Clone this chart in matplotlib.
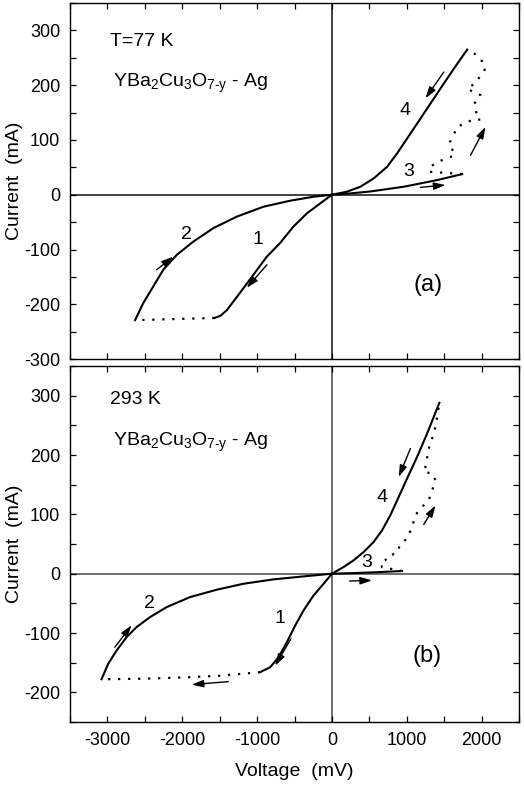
import numpy as np
import matplotlib
matplotlib.use("Agg")
import matplotlib.pyplot as plt
from matplotlib.ticker import MultipleLocator

plt.rcParams["font.family"] = ["Liberation Sans", "DejaVu Sans"]
plt.rcParams["mathtext.fontset"] = "custom"
plt.rcParams["mathtext.rm"] = "Liberation Sans"
plt.rcParams["mathtext.default"] = "regular"
plt.rcParams["axes.unicode_minus"] = False

# ---- panel (a), T = 77 K ----
a_c1_v = [0, -157, -335, -514, -692, -870, -1049, -1228, -1406, -1490, -1570]
a_c1_i = [0, -15.8, -34, -58, -88, -113, -146, -179, -211, -221, -225]

a_dot1_v = [-1570, -2630]
a_dot1_i = [-225, -229]

a_c2_v = [-2630, -2522, -2388, -2254, -2075, -1853, -1585, -1272, -916, -558, -246, 0]
a_c2_i = [-229, -198, -167.6, -137, -110, -85.6, -61, -40, -21.9, -10.9, -3.6, 0]

a_c3_v = [0, 250, 513, 959, 1406, 1740]
a_c3_i = [0, 2.5, 6, 14.6, 26.8, 37.7]

a_dot2_v = [1740, 1500, 1300, 1320, 1450, 1640, 1600, 1560, 1620, 1680, 1790, 1880, 1985, 1930,
            1900, 1985, 1880, 1810, 1920, 1985, 2050, 1990, 1900, 1807]
a_dot2_i = [37.7, 40, 42, 52, 62, 72, 85, 92, 108, 125, 130, 138, 137, 150,
            166, 182, 188, 194, 204, 218, 230, 248, 258, 265]

a_c4_v = [1807, 1673, 1494, 1316, 1138, 1004, 870, 736, 557, 379, 200, 0]
a_c4_i = [265, 239, 203, 166.5, 130, 102.7, 75.4, 51, 29.8, 14.6, 5.5, 0]

# arrows: (tail V, tail I, head V, head I)
a_arrows = [
    (1494, 224, 1249, 176),
    (1851, 72, 2052, 124),
    (1182, 13.5, 1517, 17.7),
    (-2343, -137, -2120, -113),
    (-870, -128, -1138, -170),
]
a_numbers = [("1", -987, -82), ("2", -1941, -73), ("3", 1022, 42), ("4", 981, 154)]

# ---- panel (b), T = 293 K ----
b_c1_v = [0, -112, -246, -380, -491, -602, -715, -826, -960]
b_c1_i = [0, -17, -36.7, -62, -87.3, -115.5, -141, -157.8, -166]

b_dot1_v = [-960, -1500, -2000, -2500, -3079]
b_dot1_i = [-166, -172, -175, -177, -178]

b_c2_v = [-3079, -2990, -2878, -2744, -2610, -2432, -2209, -1897, -1539, -1183, -782, -380, 0]
b_c2_i = [-178, -152, -129.6, -107, -90, -73.3, -56.4, -39.5, -27, -17, -9.6, -4.6, 0]

b_c3_v = [0, 300, 600, 937]
b_c3_i = [0, 1, 2.5, 4.5]

b_dot2_v = [937, 780, 669, 647, 714, 736, 870, 914, 1004, 1071, 1115, 1182, 1293, 1339, 1383,
            1339, 1226, 1272, 1272, 1339, 1383, 1406, 1427]
b_dot2_i = [4.5, 8.4, 11, 18, 22.5, 29, 35, 50.6, 59, 78.8, 98.5, 109.8, 123.8, 140.7, 157.6,
            169, 171.6, 188.5, 202.7, 228, 247.6, 264.5, 281.4]

b_c4_v = [1435, 1272, 1138, 1004, 892, 780, 669, 557, 423, 289, 155, 0]
b_c4_i = [288, 236.5, 197, 160.5, 129.4, 98.5, 73, 53.4, 36.5, 22.5, 11.2, 0]

b_arrows = [
    (1048, 211, 892, 163),
    (1226, 83, 1383, 115),
    (236, -12.4, 535, -11.3),
    (-2901, -124, -2677, -87),
    (-549, -110, -759, -155),
    (-1384, -182, -1874, -187),
]
b_numbers = [("1", -692, -76), ("2", -2442, -51), ("3", 468, 19.6), ("4", 669, 129)]


def style_axes(ax, ylim, zero_color):
    ax.set_xlim(-3500, 2500)
    ax.set_ylim(*ylim)
    ax.xaxis.set_major_locator(MultipleLocator(1000))
    ax.xaxis.set_minor_locator(MultipleLocator(500))
    ax.yaxis.set_major_locator(MultipleLocator(100))
    ax.yaxis.set_minor_locator(MultipleLocator(50))
    ax.tick_params(which="both", direction="in", top=True, right=True,
                   length=4, width=0.9, labelsize=13, pad=7)
    for s in ax.spines.values():
        s.set_linewidth(1.0)
    ax.axhline(0, color=zero_color, lw=1.2, zorder=1)
    ax.axvline(0, color=zero_color, lw=1.2, zorder=1)
    ax.set_ylabel("Current  (mA)", fontsize=14, labelpad=1)


def draw_panel(ax, solid, dotted, arrows, numbers):
    for v, i in solid:
        ax.plot(v, i, color="k", lw=1.5, solid_joinstyle="round", zorder=3)
    for v, i in dotted:
        ax.plot(v, i, color="k", lw=1.6, linestyle=(0, (1, 3.5)), zorder=3)
    for tv, ti, hv, hi in arrows:
        ax.annotate("", xy=(hv, hi), xytext=(tv, ti),
                    arrowprops=dict(arrowstyle="-|>,head_length=0.7,head_width=0.22",
                                    color="k", lw=1.0, shrinkA=0, shrinkB=0))
    for txt, v, i in numbers:
        ax.text(v, i, txt, fontsize=14, ha="center", va="center")


fig = plt.figure(figsize=(5.24, 7.87), dpi=100)
ax1 = fig.add_axes([0.1336, 0.5438, 0.857, 0.4523])
ax2 = fig.add_axes([0.1336, 0.0826, 0.857, 0.4523])

style_axes(ax1, (-300, 350), "#222222")
ax1.tick_params(labelbottom=False)
draw_panel(ax1,
           [(a_c1_v, a_c1_i), (a_c2_v, a_c2_i), (a_c3_v, a_c3_i), (a_c4_v, a_c4_i)],
           [(a_dot1_v, a_dot1_i), (a_dot2_v, a_dot2_i)],
           a_arrows, a_numbers)
ax1.text(-2965, 279, "T=77 K", fontsize=14, ha="left", va="center")
ax1.text(-2925, 203, "YBa$_2$Cu$_3$O$_{7\u2010y}$ - Ag", fontsize=14, ha="left", va="center")
ax1.text(1290, -164, "(a)", fontsize=17, ha="center", va="center")

style_axes(ax2, (-250, 350), "#555555")
ax2.set_xlabel("Voltage  (mV)", fontsize=14, labelpad=10)
draw_panel(ax2,
           [(b_c1_v, b_c1_i), (b_c2_v, b_c2_i), (b_c3_v, b_c3_i), (b_c4_v, b_c4_i)],
           [(b_dot1_v, b_dot1_i), (b_dot2_v, b_dot2_i)],
           b_arrows, b_numbers)
ax2.text(-2965, 293, "293 K", fontsize=14, ha="left", va="center")
ax2.text(-2925, 221, "YBa$_2$Cu$_3$O$_{7\u2010y}$ - Ag", fontsize=14, ha="left", va="center")
ax2.text(1272, -138, "(b)", fontsize=17, ha="center", va="center")

fig.savefig("out.png", dpi=100)
